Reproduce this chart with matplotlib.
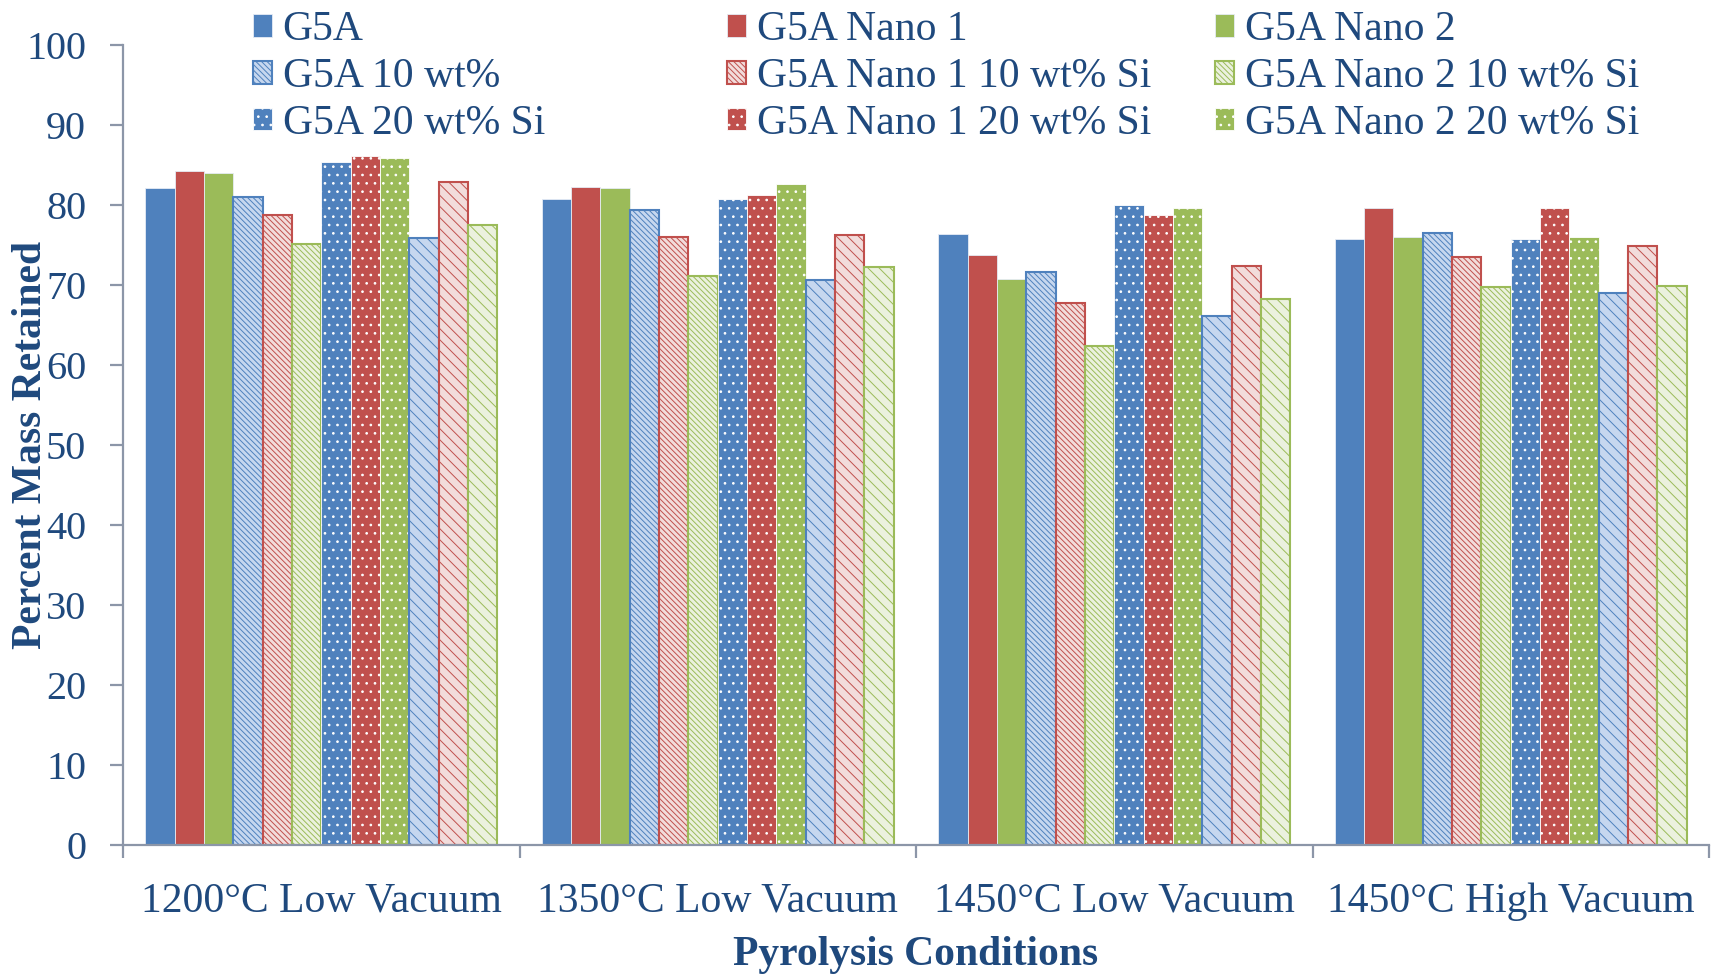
import numpy as np
import matplotlib
matplotlib.use("Agg")
import matplotlib.pyplot as plt

# datos
condiciones = ["1200°C Low Vacuum", "1350°C Low Vacuum", "1450°C Low Vacuum", "1450°C High Vacuum"]

g5a = [82.1, 80.8, 76.4, 75.7]
nano1 = [84.2, 82.2, 73.8, 79.6]
nano2 = [84.0, 82.1, 70.7, 76.0]
g5a_10 = [81.0, 79.4, 71.6, 76.5]
nano1_10 = [78.8, 76.0, 67.8, 73.5]
nano2_10 = [75.1, 71.1, 62.4, 69.8]
g5a_20 = [85.4, 80.7, 80.0, 75.7]
nano1_20 = [86.1, 81.3, 78.7, 79.6]
nano2_20 = [85.9, 82.6, 79.6, 76.0]
g5a_x = [75.9, 70.6, 66.1, 69.0]
nano1_x = [82.9, 76.3, 72.4, 74.9]
nano2_x = [77.5, 72.3, 68.2, 69.9]

etiquetas = ["G5A", "G5A Nano 1", "G5A Nano 2",
             "G5A 10 wt%", "G5A Nano 1 10 wt% Si", "G5A Nano 2 10 wt% Si",
             "G5A 20 wt% Si", "G5A Nano 1 20 wt% Si", "G5A Nano 2 20 wt% Si",
             None, None, None]

series = [g5a, nano1, nano2, g5a_10, nano1_10, nano2_10,
          g5a_20, nano1_20, nano2_20, g5a_x, nano1_x, nano2_x]

azul, rojo, verde = "#4F81BD", "#C0504D", "#9BBB59"
claros = {azul: "#C6D7EF", rojo: "#F2DCDB", verde: "#EBF1DE"}
txt = "#1F497D"
gris = "#8C96A8"

plt.rcParams["font.family"] = ["Liberation Serif", "DejaVu Serif"]
plt.rcParams["hatch.linewidth"] = 0.7

fig = plt.figure(figsize=(17.12, 9.74), dpi=100)
ax = fig.add_axes([123/1712, 1-845/974, 1586/1712, 800/974])

x = np.arange(len(condiciones))
w = 0.888/12
barras = []
for k, vals in enumerate(series):
    c = [azul, rojo, verde][k % 3]
    tipo = k // 3
    pos = x + (k - 5.5)*w
    if tipo == 0:
        b = ax.bar(pos, vals, w, color=c, edgecolor="#E6ECF5", linewidth=0.6)
    elif tipo == 1:
        b = ax.bar(pos, vals, w, color=claros[c], edgecolor=c, linewidth=1.5, hatch="\\\\\\\\\\\\")
    elif tipo == 2:
        b = ax.bar(pos, vals, w, color=c, edgecolor="white", linewidth=0.6, hatch="..")
    else:
        b = ax.bar(pos, vals, w, color=claros[c], edgecolor=c, linewidth=1.5, hatch="\\\\\\")
    barras.append(b)

ax.set_ylim(0, 100)
ax.set_xlim(-0.5, 3.5)
ax.set_yticks(range(0, 101, 10))
ax.set_xticks(x)
ax.set_xticklabels(condiciones)
ax.set_xticks(np.arange(-0.5, 4, 1), minor=True)

for s in ["top", "right"]:
    ax.spines[s].set_visible(False)
for s in ["left", "bottom"]:
    ax.spines[s].set_color(gris)
    ax.spines[s].set_linewidth(1.6)

ax.tick_params(axis="y", colors=gris, labelcolor=txt, labelsize=29, length=9.5, width=1.6, pad=17)
ax.tick_params(axis="x", which="major", length=0, labelcolor=txt, labelsize=30, pad=27)
ax.tick_params(axis="x", which="minor", length=9.5, width=1.6, colors=gris)

ax.set_ylabel("Percent Mass Retained", fontsize=30, fontweight="bold", color=txt)
ax.yaxis.label.set_va("center")
ax.yaxis.set_label_coords(-0.058, 0.5)
ax.set_xlabel("Pyrolysis Conditions", fontsize=30, fontweight="bold", color=txt)
ax.xaxis.label.set_va("center")
ax.xaxis.set_label_coords(0.5, -0.137)

# leyenda en tres columnas separadas
cols_x = [253/1712, 727/1712, 1215/1712]
for j in range(3):
    hs = [barras[j], barras[j+3], barras[j+6]]
    ls = [etiquetas[j], etiquetas[j+3], etiquetas[j+6]]
    fig.legend(hs, ls, loc="upper left", bbox_to_anchor=(cols_x[j], 0.989),
               frameon=False, fontsize=30, labelcolor=txt, borderpad=0,
               borderaxespad=0, handlelength=0.46, handleheight=0.46,
               handletextpad=0.25, labelspacing=0.2)

plt.savefig("out.png", dpi=100)
